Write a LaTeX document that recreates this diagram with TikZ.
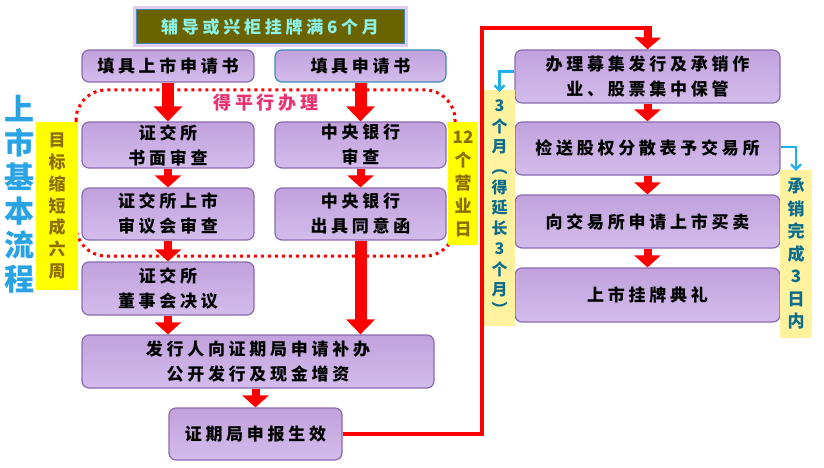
\documentclass[tikz,border=0pt]{standalone}
\usepackage{fontspec}
\usetikzlibrary{arrows.meta}
\newfontfamily\cjk[LetterSpace=22]{Noto Sans CJK SC}
\newfontfamily\cjkv{Noto Sans CJK SC}
\definecolor{boxfill}{HTML}{C8A9E2}
\definecolor{boxtop}{HTML}{C2A1DD}
\definecolor{boxbottom}{HTML}{D3BCEB}
\definecolor{boxborder}{HTML}{8A6BAE}
\definecolor{titlefill}{HTML}{6B6300}
\definecolor{titletext}{HTML}{8AF2E8}
\definecolor{glow}{HTML}{E2CCF2}
\definecolor{yel}{HTML}{FFFF00}
\definecolor{yeltext}{HTML}{8C6D00}
\definecolor{paleyel}{HTML}{FFF29E}
\definecolor{tealtext}{HTML}{0B6C8C}
\definecolor{bluearrow}{HTML}{1EAEEA}
\definecolor{pinktext}{HTML}{E8336E}
\definecolor{skyblue}{HTML}{29A3E3}
\definecolor{tealborder}{HTML}{3E8AB0}
\tikzset{
  box/.style={draw=boxborder, line width=1.2pt, top color=boxtop, bottom color=boxbottom,
    rounded corners=7pt, inner sep=0pt, align=center,
    font=\cjk\bfseries\fontsize{17}{25}\selectfont},
  bigarr/.style={draw=red, line width=12pt, -{Triangle[length=15pt,width=28pt]}},
  smallarr/.style={draw=red, line width=8pt, -{Triangle[length=12pt,width=26pt]}},
  redline/.style={draw=red, line width=4pt},
  bluearr/.style={draw=bluearrow, line width=2.2pt, -{Straight Barb[length=5pt,width=10pt]}},
  vbox/.style={inner sep=0pt, align=center},
}
\begin{document}
\begin{tikzpicture}[x=1pt,y=-1pt]
\useasboundingbox (0,0) rectangle (824,468);
% dotted region
\draw[red, line width=3pt, dash pattern=on 3pt off 4pt, rounded corners=30pt] (76,90) rectangle (455,256);
% title
\node[draw=tealborder, line width=1pt, fill=titlefill, minimum width=268pt, minimum height=34pt,
  preaction={draw=glow, line width=7pt}, text=titletext,
  font=\cjk\bfseries\fontsize{17}{20}\selectfont] (t) at (270,27) {辅导或兴柜挂牌满6个月};
% left column boxes
\node[box, minimum width=172pt, minimum height=32pt] (b1) at (168,66) {填具上市申请书};
\node[box, draw=tealborder, minimum width=171pt, minimum height=32pt] (b2) at (360.5,66) {填具申请书};
\node[box, minimum width=172pt, minimum height=46pt] (b3) at (168,145) {证交所\\书面审查};
\node[box, minimum width=171pt, minimum height=46pt] (b4) at (360.5,145) {中央银行\\审查};
\node[box, minimum width=172pt, minimum height=52pt] (b5) at (168,214) {证交所上市\\审议会审查};
\node[box, minimum width=171pt, minimum height=52pt] (b6) at (360.5,214) {中央银行\\出具同意函};
\node[box, minimum width=172pt, minimum height=53pt] (b7) at (168,288.5) {证交所\\董事会决议};
\node[box, minimum width=352pt, minimum height=53pt] (b8) at (258,361.5) {发行人向证期局申请补办\\公开发行及现金增资};
\node[box, minimum width=173pt, minimum height=52pt] (b9) at (255.5,434) {证期局申报生效};
% right column boxes
\node[box, minimum width=265pt, minimum height=53pt] (r1) at (647.5,76.5) {办理募集发行及承销作\\业、股票集中保管};
\node[box, minimum width=265pt, minimum height=53pt] (r2) at (647.5,148.5) {检送股权分散表予交易所};
\node[box, minimum width=265pt, minimum height=53pt] (r3) at (647.5,221.5) {向交易所申请上市买卖};
\node[box, minimum width=265pt, minimum height=54pt] (r4) at (647.5,295) {上市挂牌典礼};
% parallel label
\node[text=pinktext, font=\cjk\bfseries\fontsize{18}{20}\selectfont] (par) at (266,103) {得平行办理};
% side labels
\node[vbox, text=skyblue, font=\cjkv\bfseries\fontsize{30}{34}\selectfont] (main) at (20,194) {上\\市\\基\\本\\流\\程};
\node[vbox, fill=yel, minimum width=42pt, minimum height=168pt, text=yeltext,
  font=\cjkv\bfseries\fontsize{17}{21.7}\selectfont] (m1) at (57,206) {目\\标\\缩\\短\\成\\六\\周};
\node[vbox, fill=yel, minimum width=30pt, minimum height=123pt, text=yeltext,
  font=\cjkv\bfseries\fontsize{17}{23}\selectfont] (m2) at (463,183.5) {12\\个\\营\\业\\日};
\node[vbox, fill=paleyel, minimum width=31pt, minimum height=236pt, text=tealtext,
  font=\cjkv\bfseries\fontsize{16}{20.4}\selectfont] (m3) at (499.5,208) {3\\个\\月\\︵\\得\\延\\长\\3\\个\\月\\︶};
\node[vbox, fill=paleyel, minimum width=32pt, minimum height=168pt, text=tealtext,
  font=\cjkv\bfseries\fontsize{17}{22.5}\selectfont] (m4) at (796,254) {承\\销\\完\\成\\3\\日\\内};
% red arrows
\draw[bigarr] (b1.south) -- (b3.north);
\draw[bigarr] (b2.south) -- (b4.north);
\draw[smallarr] (b3.south) -- (b5.north);
\draw[smallarr] (b4.south) -- (b6.north);
\draw[smallarr] (b5.south) -- (b7.north);
\draw[bigarr] (b6.south) -- (b6.south |- b8.north);
\draw[smallarr] (b7.south) -- (b7.south |- b8.north);
\draw[smallarr] (b9.north |- b8.south) -- (b9.north);
\draw[smallarr] (r1.south) -- (r2.north);
\draw[smallarr] (r2.south) -- (r3.north);
\draw[smallarr] (r3.south) -- (r4.north);
% long red connector
\coordinate (c1) at (482,28);
\coordinate (c2) at (648,28);
\draw[redline] (b9.east) -| (c1) -- ([xshift=2pt]c2);
\draw[smallarr] ([yshift=2pt]c2) -- (r1.north);
% blue arrows
\draw[bluearr] ([yshift=5pt]r1.west) -| ([yshift=-2pt]m3.north);
\draw[bluearr] ([yshift=1.5pt]r2.east) -| ([yshift=-1pt]m4.north);
\end{tikzpicture}
\end{document}
